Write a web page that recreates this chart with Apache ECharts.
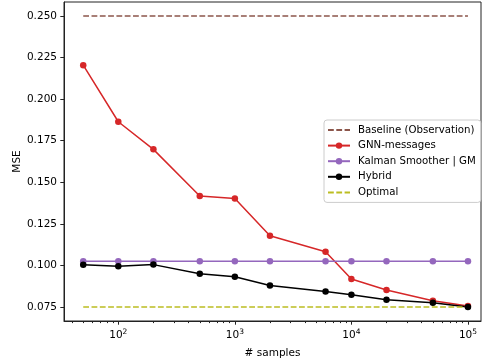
<!DOCTYPE html>
<html>
<head>
<meta charset="utf-8">
<script src="https://cdn.jsdelivr.net/npm/echarts@6/dist/echarts.min.js"></script>
<style>
  html, body { margin: 0; padding: 0; background: #fff; }
  #chart { width: 482px; height: 360px; }
</style>
</head>
<body>
<div id="chart"></div>
<script>
// sample counts on the x axis
const samples = [50, 100, 200, 500, 1000, 2000, 6000, 10000, 20000, 50000, 100000];

const baseline = [0.25, 0.25, 0.25, 0.25, 0.25, 0.25, 0.25, 0.25, 0.25, 0.25, 0.25];
const gnnMessages = [0.2204, 0.1864, 0.1698, 0.1418, 0.1402, 0.1178, 0.1082, 0.0918, 0.0852, 0.0788, 0.0756];
const kalmanGM = [0.1025, 0.1025, 0.1025, 0.1025, 0.1025, 0.1025, 0.1025, 0.1025, 0.1025, 0.1025, 0.1025];
const hybrid = [0.1004, 0.0995, 0.1005, 0.0950, 0.0932, 0.0880, 0.0844, 0.0824, 0.0794, 0.0776, 0.0750];
const optimal = [0.075, 0.075, 0.075, 0.075, 0.075, 0.075, 0.075, 0.075, 0.075, 0.075, 0.075];

const yTicks = [0.075, 0.100, 0.125, 0.150, 0.175, 0.200, 0.225, 0.250];
const xMajorTicks = [100, 1000, 10000, 100000];
const xMinorTicks = [40, 50, 60, 70, 80, 90,
  200, 300, 400, 500, 600, 700, 800, 900,
  2000, 3000, 4000, 5000, 6000, 7000, 8000, 9000,
  20000, 30000, 40000, 50000, 60000, 70000, 80000, 90000];

const FONT = 'DejaVu Sans';
const AXIS_COLOR = '#222';

function pairs(ys) {
  return samples.map((x, i) => [x, ys[i]]);
}

const chart = echarts.init(document.getElementById('chart'), null, { renderer: 'canvas' });

function lineSeries(name, ys, color, opts) {
  return Object.assign({
    name: name,
    type: 'line',
    data: pairs(ys),
    xAxisIndex: 0,
    symbol: 'circle',
    symbolSize: 6.5,
    showSymbol: true,
    lineStyle: { width: 1.5, color: color },
    itemStyle: { color: color },
    emphasis: { disabled: true },
    animation: false,
  }, opts || {});
}

// dashed reference lines: hide the dot in their legend icon
const hiddenDot = { itemStyle: { opacity: 0 } };

const option = {
  animation: false,
  textStyle: { fontFamily: FONT },
  grid: {
    left: 64, right: 1, top: 2, bottom: 39,
    outerBoundsMode: 'none',
    containLabel: false,
    show: true, borderColor: AXIS_COLOR, borderWidth: 1,
  },
  legend: {
    orient: 'vertical',
    left: 324, top: 120,
    padding: [4, 5, 4, 3],
    itemWidth: 22, itemHeight: 8, itemGap: 3.6,
    backgroundColor: 'rgba(255,255,255,0.8)',
    borderColor: '#cccccc', borderWidth: 1, borderRadius: 3,
    textStyle: { fontFamily: FONT, fontSize: 10.2, color: '#000', lineHeight: 12, padding: [0, 0, 0, 3] },
    data: [
      Object.assign({ name: 'Baseline (Observation)' }, hiddenDot),
      { name: 'GNN-messages' },
      { name: 'Kalman Smoother | GM' },
      { name: 'Hybrid' },
      Object.assign({ name: 'Optimal' }, hiddenDot),
    ],
  },
  xAxis: [
    {
      type: 'log', logBase: 10,
      min: 34.2, max: 129400,
      name: '# samples', nameLocation: 'middle', nameGap: 27,
      nameMoveOverlap: false,
      nameTextStyle: { fontFamily: FONT, fontSize: 10.5, color: '#000' },
      axisLine: { show: true, lineStyle: { color: AXIS_COLOR, width: 1 } },
      axisTick: { show: true, customValues: xMajorTicks, length: 3.7, lineStyle: { color: AXIS_COLOR } },
      axisLabel: {
        customValues: xMajorTicks,
        margin: 7,
        fontFamily: FONT, fontSize: 10.5, color: '#000',
        formatter: (v) => '10{sup|' + Math.round(Math.log10(v)) + '}',
        rich: { sup: { fontFamily: FONT, fontSize: 7.5, color: '#000', verticalAlign: 'top', padding: [0, 0, 6, 0] } },
      },
      splitLine: { show: false },
      minorTick: { show: false },
    },
    {
      type: 'log', logBase: 10,
      min: 34.2, max: 129400,
      position: 'bottom',
      show: true,
      axisLine: { show: false },
      axisTick: { show: true, customValues: xMinorTicks, length: 2.1, lineStyle: { color: AXIS_COLOR } },
      axisLabel: { show: false },
      splitLine: { show: false },
    },
  ],
  yAxis: {
    type: 'value',
    min: 0.0666, max: 0.2584,
    name: 'MSE', nameLocation: 'middle', nameGap: 41,
    nameMoveOverlap: false,
    nameTextStyle: { fontFamily: FONT, fontSize: 10.5, color: '#000' },
    axisLine: { show: true, lineStyle: { color: AXIS_COLOR, width: 1 } },
    axisTick: { show: true, customValues: yTicks, length: 3.7, lineStyle: { color: AXIS_COLOR } },
    axisLabel: {
      customValues: yTicks,
      margin: 7,
      fontFamily: FONT, fontSize: 10.5, color: '#000',
      formatter: (v) => v.toFixed(3),
    },
    splitLine: { show: false },
  },
  series: [
    lineSeries('Baseline (Observation)', baseline, '#8c564b', {
      symbol: 'none', showSymbol: false,
      lineStyle: { width: 1.5, color: '#8c564b', type: [5.8, 2.5] },
    }),
    lineSeries('GNN-messages', gnnMessages, '#d62728'),
    lineSeries('Kalman Smoother | GM', kalmanGM, '#9467bd'),
    lineSeries('Hybrid', hybrid, '#000000'),
    lineSeries('Optimal', optimal, '#bcbd22', {
      symbol: 'none', showSymbol: false,
      lineStyle: { width: 1.5, color: '#bcbd22', type: [5.8, 2.5] },
    }),
    // empty series so the minor-tick axis gets laid out
    { type: 'line', xAxisIndex: 1, data: [], silent: true },
  ],
};

chart.setOption(option);
window.addEventListener('resize', () => chart.resize());
</script>
</body>
</html>
